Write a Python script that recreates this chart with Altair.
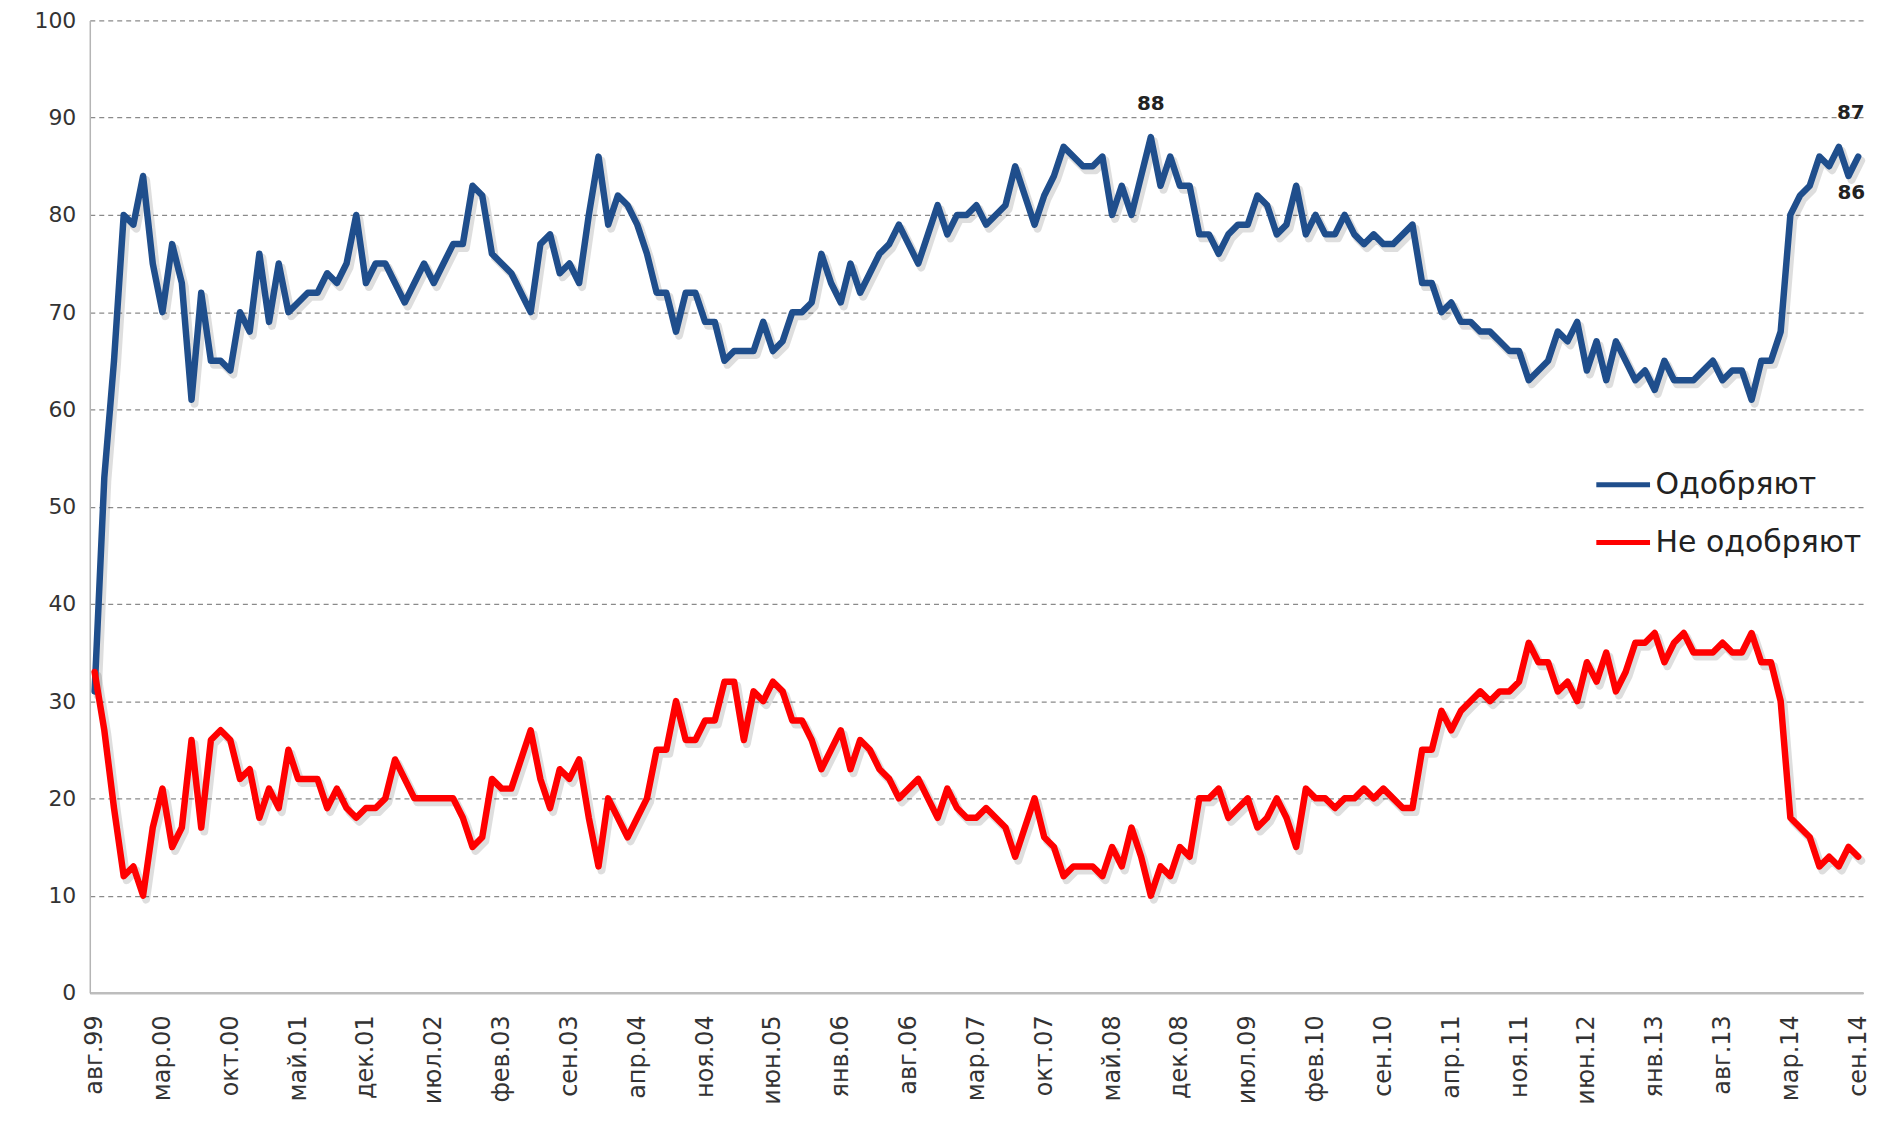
import altair as alt
import pandas as pd

# --- data (monthly, Aug 1999 ... Sep 2014) ---
approve = [
    31, 53, 65, 80, 79, 84, 75, 70, 77, 73,
    61, 72, 65, 65, 64, 70, 68, 76, 69, 75,
    70, 71, 72, 72, 74, 73, 75, 80, 73, 75,
    75, 73, 71, 73, 75, 73, 75, 77, 77, 83,
    82, 76, 75, 74, 72, 70, 77, 78, 74, 75,
    73, 80, 86, 79, 82, 81, 79, 76, 72, 72,
    68, 72, 72, 69, 69, 65, 66, 66, 66, 69,
    66, 67, 70, 70, 71, 76, 73, 71, 75, 72,
    74, 76, 77, 79, 77, 75, 78, 81, 78, 80,
    80, 81, 79, 80, 81, 85, 82, 79, 82, 84,
    87, 86, 85, 85, 86, 80, 83, 80, 84, 88,
    83, 86, 83, 83, 78, 78, 76, 78, 79, 79,
    82, 81, 78, 79, 83, 78, 80, 78, 78, 80,
    78, 77, 78, 77, 77, 78, 79, 73, 73, 70,
    71, 69, 69, 68, 68, 67, 66, 66, 63, 64,
    65, 68, 67, 69, 64, 67, 63, 67, 65, 63,
    64, 62, 65, 63, 63, 63, 64, 65, 63, 64,
    64, 61, 65, 65, 68, 80, 82, 83, 86, 85,
    87, 84, 86,
]

disapprove = [
    33, 27, 19, 12, 13, 10, 17, 21, 15, 17,
    26, 17, 26, 27, 26, 22, 23, 18, 21, 19,
    25, 22, 22, 22, 19, 21, 19, 18, 19, 19,
    20, 24, 22, 20, 20, 20, 20, 20, 18, 15,
    16, 22, 21, 21, 24, 27, 22, 19, 23, 22,
    24, 18, 13, 20, 18, 16, 18, 20, 25, 25,
    30, 26, 26, 28, 28, 32, 32, 26, 31, 30,
    32, 31, 28, 28, 26, 23, 25, 27, 23, 26,
    25, 23, 22, 20, 21, 22, 20, 18, 21, 19,
    18, 18, 19, 18, 17, 14, 17, 20, 16, 15,
    12, 13, 13, 13, 12, 15, 13, 17, 14, 10,
    13, 12, 15, 14, 20, 20, 21, 18, 19, 20,
    17, 18, 20, 18, 15, 21, 20, 20, 19, 20,
    20, 21, 20, 21, 20, 19, 19, 25, 25, 29,
    27, 29, 30, 31, 30, 31, 31, 32, 36, 34,
    34, 31, 32, 30, 34, 32, 35, 31, 33, 36,
    36, 37, 34, 36, 37, 35, 35, 35, 36, 35,
    35, 37, 34, 34, 30, 18, 17, 16, 13, 14,
    13, 15, 14,
]

tick_labels = [
    "авг.99", "мар.00", "окт.00", "май.01", "дек.01", "июл.02", "фев.03",
    "сен.03", "апр.04", "ноя.04", "июн.05", "янв.06", "авг.06", "мар.07",
    "окт.07", "май.08", "дек.08", "июл.09", "фев.10", "сен.10", "апр.11",
    "ноя.11", "июн.12", "янв.13", "авг.13", "мар.14", "сен.14",
]
tick_step = 7

series_names = ["Одобряют", "Не одобряют"]
series_colors = ["#1F4E8C", "#FF0000"]

peak_label_idx = [109]      # "88"
late_peak_label_idx = [180] # "87"
last_label_idx = [182]      # "86"

FONT = "DejaVu Sans"

rows = []
for i, v in enumerate(approve):
    rows.append({"idx": i, "series": series_names[0], "value": v})
for i, v in enumerate(disapprove):
    rows.append({"idx": i, "series": series_names[1], "value": v})
df = pd.DataFrame(rows)

n = len(approve)
tick_values = [i * tick_step for i in range(len(tick_labels))]
label_expr = "[" + ",".join("'" + t + "'" for t in tick_labels) + "][round(datum.value / %d)]" % tick_step

x_enc = alt.X(
    "idx:Q",
    scale=alt.Scale(domain=[-0.5, n - 0.5], nice=False, zero=False),
    axis=alt.Axis(
        values=tick_values, labelExpr=label_expr, labelAngle=270,
        labelPadding=22, ticks=False, grid=False, labelFlush=False,
        labelOverlap=False, domainColor="#bdbdbd", domainWidth=2.5,
        labelFontSize=24, labelColor="#333333", labelFont=FONT, title=None,
    ),
)
y_enc = alt.Y(
    "value:Q",
    scale=alt.Scale(domain=[0, 100], nice=False),
    axis=alt.Axis(
        values=list(range(0, 101, 10)), ticks=False, grid=True,
        gridDash=[5, 4], gridColor="#8a8a8a", gridWidth=1.2,
        domainColor="#b5b5b5", domainWidth=1.5, labelFontSize=22,
        labelPadding=14, labelColor="#333333", labelFont=FONT, title=None,
    ),
)

base = alt.Chart(df)

shadow = base.mark_line(
    strokeWidth=8, opacity=0.13, color="#000000", xOffset=3, yOffset=4,
    strokeJoin="round", strokeCap="round",
).encode(x=x_enc, y=y_enc, detail="series:N")

lines = base.mark_line(strokeWidth=6.5, strokeJoin="round", strokeCap="round").encode(
    x=x_enc,
    y=y_enc,
    color=alt.Color(
        "series:N",
        scale=alt.Scale(domain=series_names, range=series_colors),
        sort=series_names,
        legend=alt.Legend(
            title=None, orient="none", legendX=1508, legendY=436,
            symbolType="stroke", symbolStrokeWidth=5, symbolSize=2900,
            labelFontSize=30, labelFont=FONT, labelColor="#222222",
            labelOffset=3, rowPadding=13, labelLimit=0,
        ),
    ),
)

blue_only = base.transform_filter(alt.datum.series == series_names[0])

lbl_88 = blue_only.transform_filter(
    alt.FieldOneOfPredicate(field="idx", oneOf=peak_label_idx)
).mark_text(dy=-33, fontSize=20, fontWeight="bold", font=FONT, color="#222222").encode(
    x=x_enc, y=y_enc, text="value:Q"
)
lbl_87 = blue_only.transform_filter(
    alt.FieldOneOfPredicate(field="idx", oneOf=late_peak_label_idx)
).mark_text(dx=12, dy=-34, fontSize=20, fontWeight="bold", font=FONT, color="#222222").encode(
    x=x_enc, y=y_enc, text="value:Q"
)
lbl_86 = blue_only.transform_filter(
    alt.FieldOneOfPredicate(field="idx", oneOf=last_label_idx)
).mark_text(dx=7, dy=37, align="right", fontSize=20, fontWeight="bold", font=FONT, color="#222222").encode(
    x=x_enc, y=y_enc, text="value:Q"
)

chart = (
    alt.layer(shadow, lines, lbl_88, lbl_87, lbl_86)
    .properties(
        width=1778, height=975,
        autosize=alt.AutoSizeParams(type="none"),
        padding={"left": 82, "top": 11, "right": 12, "bottom": 114},
        background="white",
    )
    .configure_view(stroke=None)
)

chart.save("out.html", embed_options={"renderer": "svg", "actions": False})
